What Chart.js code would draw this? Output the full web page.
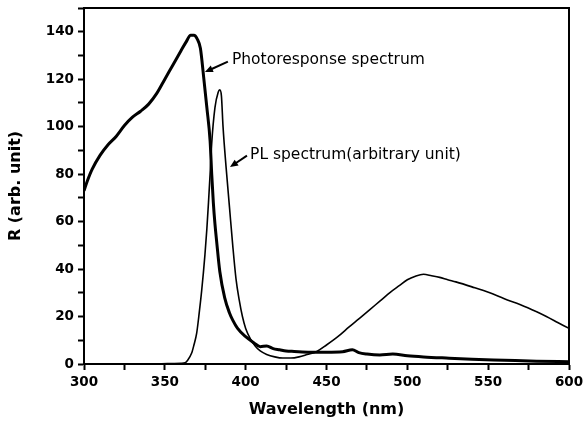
<!DOCTYPE html>
<html>
<head>
<meta charset="utf-8">
<script src="https://cdn.jsdelivr.net/npm/chart.js@4"></script>
<style>
  html, body { margin: 0; padding: 0; background: #fff; }
  #wrap { width: 584px; height: 425px; position: relative; }
</style>
</head>
<body>
<div id="wrap"><canvas id="chart"></canvas></div>
<script>
// Photoresponse spectrum (thick line)
const photoWl = [300, 302, 305, 310, 315, 320, 325, 330, 335, 340, 345, 350, 355, 360, 363, 366, 368, 370, 372, 374, 376, 378, 379, 380, 381, 382, 384, 387, 390, 392, 395, 400, 405, 409, 413, 417, 421, 425, 430, 440, 450, 460, 466, 470, 475, 483, 491, 500, 510, 524, 540, 560, 580, 600];
const photoR  = [73, 77, 82, 88, 92.5, 96, 100.5, 104, 106.5, 109.5, 114, 120, 126, 132, 135.5, 138.5, 138.5, 137, 133, 121, 108, 94, 80, 68, 59, 52, 39, 28, 21.5, 18.5, 15, 11.5, 9, 7.3, 7.6, 6.5, 6, 5.5, 5.3, 5, 5, 5.2, 6, 4.8, 4.2, 3.8, 4.2, 3.5, 3, 2.5, 2, 1.6, 1.2, 1];

// PL spectrum (thin line)
const plWl = [300, 340, 355, 360, 362.5, 364, 366.6, 368, 369.7, 371, 372.8, 374.8, 376, 377, 378, 379, 381, 383, 384, 385, 386, 388, 390, 392, 394, 396, 398, 400, 403, 406, 409, 413, 418, 423, 428, 433, 438, 444, 450, 457, 464, 470, 477, 483, 490, 495, 500, 505, 510, 515, 520, 525, 530, 540, 551, 560, 570, 580, 586, 593, 600];
const plR  = [0, 0, 0.2, 0.3, 0.5, 1.5, 4.6, 8, 13, 20, 31, 46, 57, 68, 80, 93, 108, 114.5, 115.5, 113, 100, 82, 66, 50, 36, 27, 20, 15, 10.5, 7.5, 5.5, 4, 3, 2.5, 2.5, 3, 4, 5.3, 8, 11.5, 15.6, 19, 23, 26.5, 30.5, 33, 35.5, 37, 37.8, 37.2, 36.5, 35.5, 34.6, 32.5, 30, 27.5, 25, 22, 20, 17.5, 15];

// Axis ranges and labelled ticks
const xRange = [300, 600];
const yRange = [0, 150];
const xLabels = [300, 350, 400, 450, 500, 550, 600];
const yLabels = [0, 20, 40, 60, 80, 100, 120, 140];

// Annotation texts with arrow tail / tip, in data units
const notes = [
  { text: 'Photoresponse spectrum', at: [391.5, 128], tail: [389, 127.4], tip: [374.8, 123] },
  { text: 'PL spectrum(arbitrary unit)', at: [402.7, 88], tail: [400.8, 87.8], tip: [390.3, 83] }
];

const toPoints = (xs, ys) => xs.map((x, i) => ({ x: x, y: ys[i] }));

const frame = {
  id: 'frame',
  afterDraw(chart) {
    const { ctx, chartArea: a, scales } = chart;
    ctx.save();
    // top and right border
    ctx.strokeStyle = '#000';
    ctx.lineWidth = 2;
    ctx.beginPath();
    ctx.moveTo(a.left, a.top);
    ctx.lineTo(a.right, a.top);
    ctx.lineTo(a.right, a.bottom);
    ctx.stroke();

    // annotations
    ctx.fillStyle = '#000';
    ctx.font = '15.5px "DejaVu Sans"';
    ctx.textBaseline = 'middle';
    notes.forEach(n => {
      const tx = scales.x.getPixelForValue(n.at[0]);
      const ty = scales.y.getPixelForValue(n.at[1]);
      ctx.fillText(n.text, tx, ty);
      const x0 = scales.x.getPixelForValue(n.tail[0]);
      const y0 = scales.y.getPixelForValue(n.tail[1]);
      const x1 = scales.x.getPixelForValue(n.tip[0]);
      const y1 = scales.y.getPixelForValue(n.tip[1]);
      const ang = Math.atan2(y1 - y0, x1 - x0);
      ctx.lineWidth = 2;
      ctx.beginPath();
      ctx.moveTo(x0, y0);
      ctx.lineTo(x1 - 5 * Math.cos(ang), y1 - 5 * Math.sin(ang));
      ctx.stroke();
      ctx.beginPath();
      ctx.moveTo(x1, y1);
      ctx.lineTo(x1 - 8 * Math.cos(ang) + 3.5 * Math.sin(ang), y1 - 8 * Math.sin(ang) - 3.5 * Math.cos(ang));
      ctx.lineTo(x1 - 8 * Math.cos(ang) - 3.5 * Math.sin(ang), y1 - 8 * Math.sin(ang) + 3.5 * Math.cos(ang));
      ctx.closePath();
      ctx.fill();
    });
    ctx.restore();
  }
};

const tickFont = { family: '"DejaVu Sans"', size: 13.5, weight: 'bold' };
const titleFont = { family: '"DejaVu Sans"', size: 16, weight: 'bold' };

new Chart(document.getElementById('chart'), {
  type: 'line',
  data: {
    datasets: [
      {
        label: 'Photoresponse spectrum',
        data: toPoints(photoWl, photoR),
        borderColor: '#000',
        borderWidth: 3,
        pointRadius: 0,
        cubicInterpolationMode: 'monotone'
      },
      {
        label: 'PL spectrum',
        data: toPoints(plWl, plR),
        borderColor: '#000',
        borderWidth: 1.6,
        pointRadius: 0,
        cubicInterpolationMode: 'monotone'
      }
    ]
  },
  options: {
    responsive: true,
    maintainAspectRatio: false,
    devicePixelRatio: 1,
    animation: false,
    layout: { padding: { top: 8, right: 15, left: 0, bottom: 0 } },
    plugins: { legend: { display: false }, tooltip: { enabled: false } },
    scales: {
      x: {
        type: 'linear',
        min: xRange[0],
        max: xRange[1],
        afterFit: s => { s.height = 61; s.paddingLeft = 0; s.paddingRight = 0; },
        border: { display: true, color: '#000', width: 2 },
        grid: { drawOnChartArea: false, drawTicks: true, tickLength: 6, tickWidth: 2, tickColor: '#000' },
        ticks: {
          stepSize: 25,
          autoSkip: false,
          maxRotation: 0,
          color: '#000',
          font: tickFont,
          padding: 4,
          callback: v => xLabels.includes(v) ? String(v) : ''
        },
        title: { display: true, text: 'Wavelength (nm)', color: '#000', font: titleFont, padding: { top: 0, bottom: 6 } }
      },
      y: {
        min: yRange[0],
        max: yRange[1],
        afterFit: s => { s.width = 84; s.paddingTop = 0; s.paddingBottom = 0; },
        border: { display: true, color: '#000', width: 2 },
        grid: { drawOnChartArea: false, drawTicks: true, tickLength: 6, tickWidth: 2, tickColor: '#000' },
        ticks: {
          stepSize: 10,
          autoSkip: false,
          color: '#000',
          font: tickFont,
          padding: 4,
          callback: v => yLabels.includes(v) ? String(v) : ''
        },
        title: { display: true, text: 'R (arb. unit)', color: '#000', font: titleFont, padding: { top: 6, bottom: 0 } }
      }
    }
  },
  plugins: [frame]
});
</script>
</body>
</html>
